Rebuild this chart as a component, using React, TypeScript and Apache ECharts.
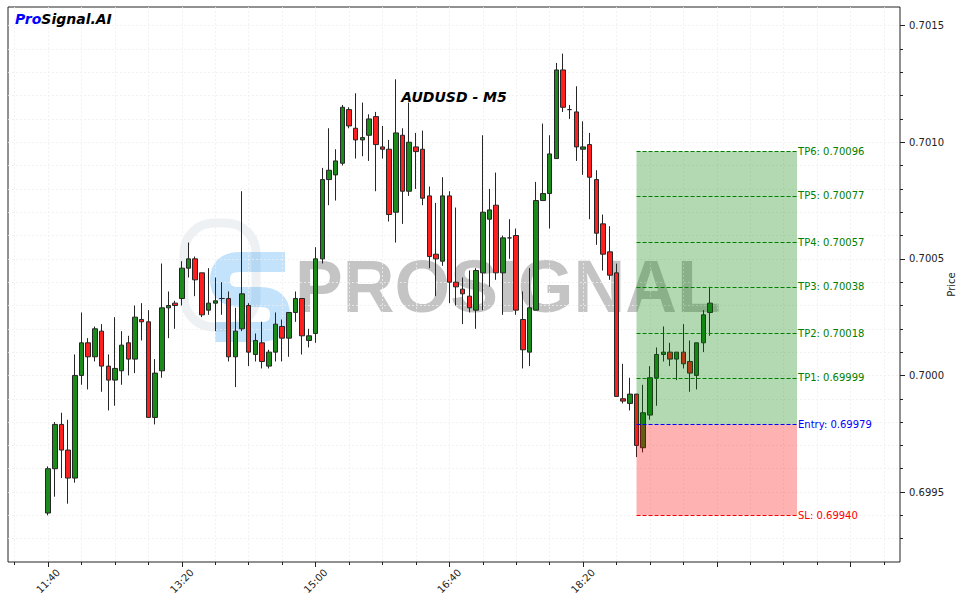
import React, { useEffect, useRef } from "react";
import * as echarts from "echarts";

// ---- data ----
const times = [
  "11:40","11:45","11:50","11:55",
  "12:00","12:05","12:10","12:15","12:20","12:25","12:30","12:35","12:40","12:45","12:50","12:55",
  "13:00","13:05","13:10","13:15","13:20","13:25","13:30","13:35","13:40","13:45","13:50","13:55",
  "14:00","14:05","14:10","14:15","14:20","14:25","14:30","14:35","14:40","14:45","14:50","14:55",
  "15:00","15:05","15:10","15:15","15:20","15:25","15:30","15:35","15:40","15:45","15:50","15:55",
  "16:00","16:05","16:10","16:15","16:20","16:25","16:30","16:35","16:40","16:45","16:50","16:55",
  "17:00","17:05","17:10","17:15","17:20","17:25","17:30","17:35","17:40","17:45","17:50","17:55",
  "18:00","18:05","18:10","18:15","18:20","18:25","18:30","18:35","18:40","18:45","18:50","18:55",
  "19:00","19:05","19:10","19:15","19:20","19:25","19:30","19:35","19:40","19:45","19:50","19:55",
];

const opens = [
  0.69941,0.69960,0.69979,0.69968,0.69956,0.70000,0.70014,0.70008,0.70019,0.70004,
  0.69998,0.70002,0.70014,0.70007,0.70024,0.70023,0.69982,0.70002,0.70029,0.70031,
  0.70033,0.70046,0.70050,0.70044,0.70028,0.70031,0.70033,0.70033,0.70008,0.70020,
  0.70030,0.70009,0.70014,0.70004,0.70010,0.70021,0.70016,0.70027,0.70033,0.70015,
  0.70018,0.70050,0.70084,0.70086,0.70091,0.70114,0.70106,0.70101,0.70103,0.70111,
  0.70098,0.70097,0.70070,0.70103,0.70079,0.70098,0.70097,0.70077,0.70052,0.70049,
  0.70077,0.70040,0.70037,0.70034,0.70028,0.70044,0.70067,0.70073,0.70044,0.70059,
  0.70060,0.70024,0.70010,0.70028,0.70075,0.70078,0.70093,0.70131,0.70114,0.70113,
  0.70097,0.70099,0.70084,0.70065,0.70053,0.70044,0.69990,0.69988,0.69992,0.69969,
  0.69983,0.69999,0.70009,0.70010,0.70007,0.70010,0.70006,0.70000,0.70014,0.70027,
];
const closes = [
  0.69960,0.69979,0.69968,0.69956,0.70000,0.70014,0.70008,0.70020,0.70004,0.69998,
  0.70003,0.70013,0.70007,0.70025,0.70023,0.69982,0.70001,0.70029,0.70030,0.70030,
  0.70046,0.70050,0.70041,0.70026,0.70031,0.70032,0.70033,0.70008,0.70019,0.70035,
  0.70010,0.70015,0.70006,0.70010,0.70022,0.70016,0.70027,0.70033,0.70017,0.70017,
  0.70050,0.70084,0.70088,0.70092,0.70115,0.70107,0.70101,0.70102,0.70110,0.70099,
  0.70097,0.70069,0.70104,0.70079,0.70100,0.70096,0.70076,0.70051,0.70050,0.70077,
  0.70040,0.70038,0.70035,0.70029,0.70045,0.70070,0.70071,0.70044,0.70059,0.70059,
  0.70028,0.70011,0.70029,0.70075,0.70078,0.70095,0.70131,0.70115,0.70114,0.70098,
  0.70098,0.70085,0.70061,0.70052,0.70043,0.69991,0.69989,0.69992,0.69970,0.69984,
  0.69999,0.70009,0.70010,0.70007,0.70010,0.70005,0.70001,0.70014,0.70026,0.70031,
];
const lows = [
  0.69940,0.69948,0.69956,0.69945,0.69954,0.69996,0.69994,0.70006,0.69993,0.69985,
  0.69987,0.69996,0.70000,0.70001,0.70015,0.69982,0.69979,0.69999,0.70016,0.70020,
  0.70030,0.70042,0.70034,0.70025,0.70026,0.70019,0.70026,0.70006,0.69995,0.70019,
  0.70004,0.70006,0.70003,0.70003,0.70006,0.70006,0.70008,0.70023,0.70009,0.70012,
  0.70014,0.70048,0.70073,0.70075,0.70090,0.70106,0.70093,0.70094,0.70092,0.70079,
  0.70093,0.70066,0.70057,0.70065,0.70077,0.70080,0.70073,0.70046,0.70034,0.70047,
  0.70031,0.70030,0.70022,0.70027,0.70020,0.70028,0.70038,0.70041,0.70026,0.70050,
  0.70026,0.70003,0.70004,0.70028,0.70075,0.70063,0.70093,0.70113,0.70110,0.70092,
  0.70086,0.70067,0.70056,0.70045,0.70041,0.69991,0.69988,0.69985,0.69965,0.69967,
  0.69981,0.69987,0.70006,0.70004,0.69998,0.70003,0.69993,0.69994,0.70010,0.70017,
];
const highs = [
  0.69961,0.69980,0.69984,0.69981,0.70009,0.70027,0.70016,0.70021,0.70022,0.70009,
  0.70025,0.70019,0.70017,0.70030,0.70031,0.70028,0.70007,0.70048,0.70036,0.70032,
  0.70049,0.70057,0.70051,0.70044,0.70046,0.70042,0.70040,0.70036,0.70029,0.70079,
  0.70031,0.70018,0.70023,0.70011,0.70027,0.70024,0.70027,0.70036,0.70033,0.70020,
  0.70055,0.70089,0.70106,0.70097,0.70116,0.70115,0.70121,0.70117,0.70112,0.70113,
  0.70107,0.70101,0.70127,0.70106,0.70117,0.70104,0.70105,0.70081,0.70074,0.70085,
  0.70079,0.70072,0.70042,0.70045,0.70046,0.70103,0.70080,0.70087,0.70060,0.70067,
  0.70063,0.70036,0.70046,0.70083,0.70108,0.70103,0.70134,0.70138,0.70116,0.70124,
  0.70109,0.70104,0.70088,0.70069,0.70064,0.70048,0.70005,0.69999,0.69992,0.69996,
  0.70004,0.70012,0.70021,0.70014,0.70010,0.70022,0.70015,0.70014,0.70028,0.70038,
];

const levelNames = ["TP6", "TP5", "TP4", "TP3", "TP2", "TP1", "Entry", "SL"];
const levelValues = [0.70096, 0.70077, 0.70057, 0.70038, 0.70018, 0.69999, 0.69979, 0.69940];
const zoneStart = "19:00";
const zoneEnd = "21:00";

const xMajorTicks = ["11:40", "13:20", "15:00", "16:40", "18:20", "20:00", "21:40"];
const xLabelTicks = ["11:40", "13:20", "15:00", "16:40", "18:20"];
const xMinorTicks = [
  "11:15","11:40","12:05","12:30","12:55","13:20","13:45","14:10","14:35","15:00","15:25","15:50",
  "16:15","16:40","17:05","17:30","17:55","18:20","18:45","19:10","19:35","20:00","20:25","20:50",
  "21:15","21:40","22:05",
];
const yMajorTicks = [0.6995, 0.7, 0.7005, 0.701, 0.7015];
const yMinorTicks = [
  0.6993, 0.6994, 0.6995, 0.6996, 0.6997, 0.6998, 0.6999, 0.7, 0.7001, 0.7002, 0.7003, 0.7004,
  0.7005, 0.7006, 0.7007, 0.7008, 0.7009, 0.701, 0.7011, 0.7012, 0.7013, 0.7014, 0.7015,
];

const toMin = (s: string) => {
  const [h, m] = s.split(":").map(Number);
  return h * 60 + m;
};
const fmtMin = (v: number) => {
  const h = Math.floor(v / 60);
  const m = Math.round(v - h * 60);
  return `${h}:${String(m).padStart(2, "0")}`;
};

const X_MIN = 670;
const X_MAX = 1337;
const Y_MIN = 0.6992;
const Y_MAX = 0.70158;

const GREEN = "#1a8a1a";
const RED = "#ff1f1f";
const FONT = "DejaVu Sans";
const GRID_LINE = { color: "#efefef", type: [2, 2], width: 0.8 };

echarts.graphic.registerShape(
  "logoS",
  echarts.graphic.extendPath(
    "M 75 10 L 30 10 Q 10 10 10 28 Q 10 45 30 45 L 50 45 Q 70 45 70 63 Q 70 80 50 80 L 5 80",
    {}
  )
);

export default function App() {
  const ref = useRef<HTMLDivElement>(null);

  useEffect(() => {
    if (!ref.current) return;
    const chart = echarts.init(ref.current, undefined, { renderer: "svg" });

    const candleData = times.map((t, i) => [toMin(t), opens[i], closes[i], lows[i], highs[i]]);
    const x0 = toMin(zoneStart);
    const x1 = toMin(zoneEnd);
    const levelColor = (name: string) =>
      name === "Entry" ? "#0000ff" : name === "SL" ? "#ff0000" : "#008000";

    const markLineData = levelNames.map((name, i) => [
      {
        coord: [x0, levelValues[i]],
        lineStyle: { color: levelColor(name), type: [4, 2], width: 1 },
        label: {
          show: true,
          position: "end",
          distance: 1,
          formatter: `${name}: ${levelValues[i].toFixed(5)}`,
          color: levelColor(name),
          fontSize: 10,
          fontFamily: FONT,
        },
      },
      { coord: [x1, levelValues[i]] },
    ]);
    const entry = levelValues[levelNames.indexOf("Entry")];
    const tp6 = levelValues[levelNames.indexOf("TP6")];
    const sl = levelValues[levelNames.indexOf("SL")];

    const option: any = {
      animation: false,
      backgroundColor: "#ffffff",
      textStyle: { fontFamily: FONT },
      grid: {
        left: 8,
        right: 63,
        top: 7,
        bottom: 41,
        outerBoundsMode: "none",
        containLabel: false,
        show: true,
        borderColor: "#222",
        borderWidth: 1,
        backgroundColor: "transparent",
      },
      xAxis: [
        {
          type: "value",
          min: X_MIN,
          max: X_MAX,
          position: "bottom",
          axisLine: { show: false },
          splitLine: { show: false },
          axisTick: {
            show: true,
            length: 5,
            customValues: xMajorTicks.map(toMin),
            lineStyle: { color: "#222" },
          },
          axisLabel: {
            customValues: xLabelTicks.map(toMin),
            rotate: 45,
            align: "center",
            verticalAlign: "middle",
            formatter: (v: number) => fmtMin(v),
            fontSize: 10,
            color: "#222",
            margin: 19,
            fontFamily: FONT,
          },
        },
        {
          type: "value",
          min: X_MIN,
          max: X_MAX,
          position: "bottom",
          axisLine: { show: false },
          axisLabel: { show: false },
          axisTick: {
            show: true,
            length: 3,
            customValues: xMinorTicks.map(toMin),
            lineStyle: { color: "#222" },
          },
          splitLine: { show: true, lineStyle: GRID_LINE },
        },
      ],
      yAxis: [
        {
          type: "value",
          min: Y_MIN,
          max: Y_MAX,
          position: "right",
          axisLine: { show: false },
          splitLine: { show: false },
          axisTick: { show: true, length: 5, customValues: yMajorTicks, lineStyle: { color: "#222" } },
          axisLabel: {
            customValues: yMajorTicks,
            formatter: (v: number) => v.toFixed(4),
            fontSize: 10,
            color: "#222",
            margin: 9,
            fontFamily: FONT,
          },
          name: "Price",
          nameLocation: "middle",
          nameRotate: 90,
          nameGap: 46,
          nameMoveOverlap: false,
          nameTextStyle: { fontSize: 10, color: "#222", fontFamily: FONT },
        },
        {
          type: "value",
          min: Y_MIN,
          max: Y_MAX,
          position: "right",
          axisLine: { show: false },
          axisLabel: { show: false },
          axisTick: { show: true, length: 3, customValues: yMinorTicks, lineStyle: { color: "#222" } },
          splitLine: { show: true, lineStyle: GRID_LINE },
        },
      ],
      series: [
        {
          type: "candlestick",
          xAxisIndex: 0,
          yAxisIndex: 0,
          barWidth: 5,
          data: candleData,
          itemStyle: {
            color: GREEN,
            color0: RED,
            borderColor: "#262626",
            borderColor0: "#262626",
            borderWidth: 1,
          },
          z: 2,
        },
        {
          type: "line",
          xAxisIndex: 0,
          yAxisIndex: 0,
          data: [],
          silent: true,
          markArea: {
            silent: true,
            z: 5,
            data: [
              [
                { coord: [x0, entry], itemStyle: { color: "rgba(0,128,0,0.3)" } },
                { coord: [x1, tp6] },
              ],
              [
                { coord: [x0, sl], itemStyle: { color: "rgba(255,0,0,0.3)" } },
                { coord: [x1, entry] },
              ],
            ],
          },
          markLine: {
            silent: true,
            z: 6,
            symbol: ["none", "none"],
            data: markLineData,
          },
        },
      ],
      graphic: [
        {
          type: "rect",
          z: 0,
          shape: { x: 184, y: 223, width: 72, height: 104, r: 30 },
          style: { fill: "none", stroke: "rgba(200,210,220,0.3)", lineWidth: 9 },
        },
        {
          type: "logoS",
          x: 210,
          y: 252,
          z: 0,
          style: { fill: "none", stroke: "rgba(40,150,240,0.28)", lineWidth: 20 },
        },
        {
          type: "text",
          x: 295,
          y: 286,
          z: 0,
          scaleX: 0.955,
          style: {
            text: "PROSIGNAL",
            font: "bold 75px 'Liberation Sans'",
            fill: "rgba(100,100,100,0.38)",
            textVerticalAlign: "middle",
          },
        },
        {
          type: "text",
          x: 454,
          y: 97,
          z: 100,
          style: {
            text: "AUDUSD - M5",
            font: "italic bold 14px 'DejaVu Sans'",
            fill: "#000",
            textAlign: "center",
            textVerticalAlign: "middle",
          },
        },
        {
          type: "text",
          x: 15,
          y: 19,
          z: 100,
          style: {
            text: "{a|Pro}{b|Signal.AI}",
            textVerticalAlign: "middle",
            rich: {
              a: { fill: "#0000ff", fontSize: 14, fontWeight: "bold", fontStyle: "italic", fontFamily: FONT },
              b: { fill: "#000000", fontSize: 14, fontWeight: "bold", fontStyle: "italic", fontFamily: FONT },
            },
          },
        },
      ],
    };

    chart.setOption(option);
    return () => chart.dispose();
  }, []);

  return (
    <div
      ref={ref}
      style={{ position: "fixed", left: 0, top: 0, width: 963, height: 603, background: "#fff" }}
    />
  );
}
